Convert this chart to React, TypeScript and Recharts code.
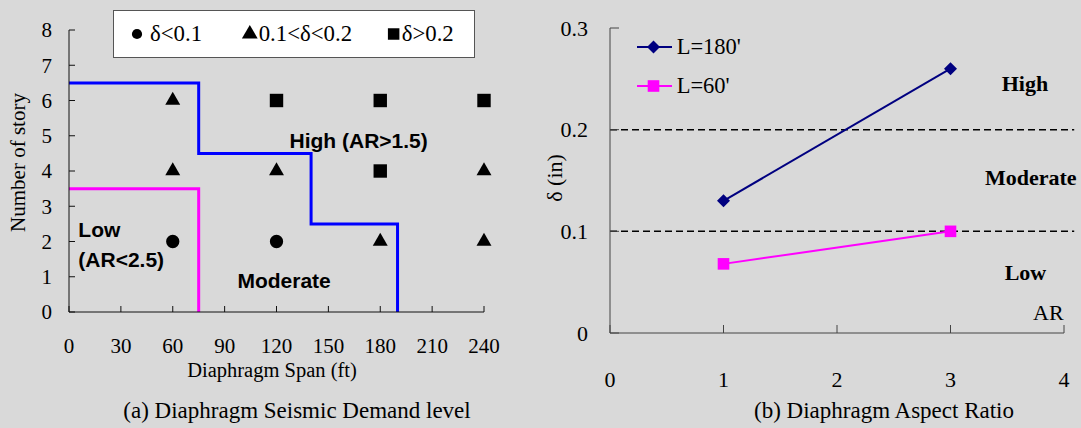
import React from 'react';
import {
  ComposedChart,
  LineChart,
  Line,
  Scatter,
  XAxis,
  YAxis,
  ReferenceLine,
  ReferenceDot,
  Legend,
  Label,
  Symbols,
} from 'recharts';

// ---------- data: (a) Diaphragm Seismic Demand level ----------
const spanTicks = [0, 30, 60, 90, 120, 150, 180, 210, 240];
const storyTicks = [0, 1, 2, 3, 4, 5, 6, 7, 8];
const lowDrift = [
  { x: 60, y: 2 },
  { x: 120, y: 2 },
];
const midDrift = [
  { x: 60, y: 6 },
  { x: 60, y: 4 },
  { x: 120, y: 4 },
  { x: 180, y: 2 },
  { x: 240, y: 4 },
  { x: 240, y: 2 },
];
const highDrift = [
  { x: 120, y: 6 },
  { x: 180, y: 6 },
  { x: 240, y: 6 },
  { x: 180, y: 4 },
];
const highBoundary = [
  { x: 0, y: 6.5 },
  { x: 75, y: 4.5 },
  { x: 140, y: 2.5 },
  { x: 190, y: 0 },
];
const lowBoundary = [
  { x: 0, y: 3.5 },
  { x: 75, y: 0 },
];
const driftNames = ['δ<0.1', '0.1<δ<0.2', 'δ>0.2'];
const driftSymbols = ['circle', 'triangle', 'square'];

// ---------- data: (b) Diaphragm Aspect Ratio ----------
const arTicks = [0, 1, 2, 3, 4];
const deltaTicks = [0, 0.1, 0.2, 0.3];
const aspectRatio = [1, 3];
const deltaL180 = [0.13, 0.26];
const deltaL60 = [0.068, 0.1];
const seriesNames = ["L=180'", "L=60'"];
const thresholds = [0.1, 0.2];

const ratioTable = aspectRatio.map((ar, i) => ({ ar, l180: deltaL180[i], l60: deltaL60[i] }));

const SERIF = '"Liberation Serif", "Times New Roman", serif';
const SANS = '"Liberation Sans", Arial, sans-serif';
const BG = '#d9d9d9';

const markerArea: Record<string, number> = { circle: 139, triangle: 97, square: 180 };
const iconArea: Record<string, number> = { circle: 82, triangle: 108, square: 132 };
const legendItemWidths = [109.4, 146.3, 80];
const legendIconWidths = [10, 15.6, 11.3];
const legendGaps = [7.7, 1.4, 2.4];

const LeftLegend = () => (
  <div
    style={{
      position: 'absolute',
      left: 113,
      top: 10,
      boxSizing: 'border-box',
      width: 362,
      height: 48,
      background: '#fff',
      border: '1px solid #555',
      display: 'flex',
      alignItems: 'center',
      paddingLeft: 18.3,
      fontFamily: SERIF,
      fontSize: 22.8,
      color: '#000',
      whiteSpace: 'nowrap',
    }}
  >
    {driftNames.map((name, i) => {
      const w = legendIconWidths[i];
      const t = driftSymbols[i];
      return (
        <div key={name} style={{ display: 'flex', alignItems: 'center', width: legendItemWidths[i] }}>
          <svg width={w} height={16} style={{ marginRight: legendGaps[i], overflow: 'visible' }}>
            <Symbols cx={w / 2} cy={8} type={t as any} size={iconArea[t]} fill="#000" />
          </svg>
          <span>{name}</span>
        </div>
      );
    })}
  </div>
);

const Diamond = (props: any) => {
  const { cx, cy, fill } = props;
  if (cx == null || cy == null) return null;
  const r = 6.5;
  return <polygon points={`${cx},${cy - r} ${cx + r},${cy} ${cx},${cy + r} ${cx - r},${cy}`} fill={fill} />;
};
const Square = (props: any) => {
  const { cx, cy, fill } = props;
  if (cx == null || cy == null) return null;
  const r = 5.8;
  return <rect x={cx - r} y={cy - r} width={2 * r} height={2 * r} fill={fill} />;
};

const RightLegend = (props: any) => {
  const payload = props.payload || [];
  return (
    <div style={{ fontFamily: SERIF, fontSize: 22.5, color: '#000', whiteSpace: 'nowrap' }}>
      {payload.map((e: any, i: number) => (
        <div key={i} style={{ display: 'flex', alignItems: 'center', height: 39 }}>
          <svg width={35} height={14} style={{ overflow: 'visible' }}>
            <line x1={0} x2={35} y1={7} y2={7} stroke={e.color} strokeWidth={2} />
            {e.dataKey === 'l180' ? (
              <Diamond cx={16.5} cy={7} fill={e.color} />
            ) : (
              <Square cx={16.5} cy={7} fill={e.color} />
            )}
          </svg>
          <span style={{ marginLeft: 5 }}>{e.value}</span>
        </div>
      ))}
    </div>
  );
};

const shapeOf = (type: string) => (p: any) =>
  <Symbols cx={p.cx} cy={p.cy} type={type as any} size={markerArea[type]} fill="#000" />;

const driftSeries = [lowDrift, midDrift, highDrift];

export default function App() {
  return (
    <div
      style={{
        position: 'absolute',
        left: 0,
        top: 0,
        width: 1081,
        height: 428,
        background: BG,
        overflow: 'hidden',
      }}
    >
      {/* (a) */}
      <div style={{ position: 'absolute', left: 0, top: 0 }}>
        <ComposedChart width={540} height={428} margin={{ top: 30, right: 56, bottom: 0, left: 0 }}>
          <XAxis
            type="number"
            dataKey="x"
            domain={[0, 240]}
            ticks={spanTicks}
            interval={0}
            height={116}
            tickSize={-6}
            tickMargin={32}
            axisLine={{ stroke: '#111', strokeWidth: 1 }}
            tickLine={{ stroke: '#111' }}
            tick={{ fontSize: 21, fontFamily: SERIF, fill: '#000' }}
          >
            <Label
              content={() => (
                <text x={272} y={377} textAnchor="middle" fontFamily={SERIF} fontSize={20.5} fill="#000">
                  Diaphragm Span (ft)
                </text>
              )}
            />
          </XAxis>
          <YAxis
            type="number"
            dataKey="y"
            domain={[0, 8]}
            ticks={storyTicks}
            interval={0}
            width={69}
            tickSize={-6}
            tickMargin={23}
            axisLine={{ stroke: '#111', strokeWidth: 1 }}
            tickLine={{ stroke: '#111' }}
            tick={{ fontSize: 21, fontFamily: SERIF, fill: '#000' }}
          >
            <Label
              content={() => (
                <text
                  x={25}
                  y={162.5}
                  transform="rotate(-90, 25, 162.5)"
                  textAnchor="middle"
                  fontFamily={SERIF}
                  fontSize={21}
                  fill="#000"
                >
                  Number of story
                </text>
              )}
            />
          </YAxis>
          <Line
            data={highBoundary}
            dataKey="y"
            type="stepAfter"
            stroke="#0000ff"
            strokeWidth={3}
            dot={false}
            activeDot={false}
            legendType="none"
            isAnimationActive={false}
          />
          <Line
            data={lowBoundary}
            dataKey="y"
            type="stepAfter"
            stroke="#ff00ff"
            strokeWidth={3}
            dot={false}
            activeDot={false}
            legendType="none"
            isAnimationActive={false}
          />
          {driftSeries.map((d, i) => (
            <Scatter
              key={driftNames[i]}
              name={driftNames[i]}
              data={d}
              fill="#000"
              legendType={driftSymbols[i] as any}
              shape={shapeOf(driftSymbols[i])}
              isAnimationActive={false}
            />
          ))}
          <ReferenceDot x={167.5} y={4.85} r={0} fill="none" stroke="none">
            <Label value="High (AR>1.5)" position="center" fontFamily={SANS} fontWeight="bold" fontSize={21} fill="#000" />
          </ReferenceDot>
          <ReferenceDot x={5.4} y={2.33} r={0} fill="none" stroke="none">
            <Label value="Low" position="right" offset={0} fontFamily={SANS} fontWeight="bold" fontSize={21} fill="#000" />
          </ReferenceDot>
          <ReferenceDot x={5.4} y={1.5} r={0} fill="none" stroke="none">
            <Label value="(AR<2.5)" position="right" offset={0} fontFamily={SANS} fontWeight="bold" fontSize={21} fill="#000" />
          </ReferenceDot>
          <ReferenceDot x={124.4} y={0.9} r={0} fill="none" stroke="none">
            <Label value="Moderate" position="center" fontFamily={SANS} fontWeight="bold" fontSize={21} fill="#000" />
          </ReferenceDot>
        </ComposedChart>
      </div>
      <LeftLegend />

      {/* (b) */}
      <div style={{ position: 'absolute', left: 540, top: 0 }}>
        <LineChart width={541} height={428} data={ratioTable} margin={{ top: 28, right: 17, bottom: 0, left: 0 }}>
          <XAxis
            type="number"
            dataKey="ar"
            domain={[0, 4]}
            ticks={arTicks}
            interval={0}
            height={95}
            tickSize={-8}
            tickMargin={46}
            axisLine={{ stroke: '#444', strokeWidth: 1 }}
            tickLine={{ stroke: '#444' }}
            tick={{ fontSize: 22, fontFamily: SERIF, fill: '#000' }}
          />
          <YAxis
            type="number"
            domain={[0, 0.3]}
            ticks={deltaTicks}
            interval={0}
            width={70}
            tickSize={-9}
            tickMargin={31}
            axisLine={{ stroke: '#444', strokeWidth: 1 }}
            tickLine={{ stroke: '#444' }}
            tick={{ fontSize: 22, fontFamily: SERIF, fill: '#000' }}
          >
            <Label
              content={() => (
                <text
                  x={22}
                  y={178}
                  transform="rotate(-90, 22, 178)"
                  textAnchor="middle"
                  fontFamily={SERIF}
                  fontSize={22}
                  fill="#000"
                >
                  δ (in)
                </text>
              )}
            />
          </YAxis>
          {thresholds.map((t) => (
            <ReferenceLine
              key={t}
              segment={[
                { x: 0, y: t },
                { x: 4.09, y: t },
              ]}
              ifOverflow="visible"
              stroke="#000"
              strokeWidth={1.5}
              strokeDasharray="7 4"
            />
          ))}
          <Legend
            layout="vertical"
            align="center"
            verticalAlign="middle"
            content={<RightLegend />}
            wrapperStyle={{ left: 96.7, top: 27.2, width: 120, height: 78 }}
          />
          <Line
            dataKey="l180"
            name={seriesNames[0]}
            stroke="#000080"
            strokeWidth={2}
            dot={<Diamond fill="#000080" />}
            activeDot={false}
            isAnimationActive={false}
          />
          <Line
            dataKey="l60"
            name={seriesNames[1]}
            stroke="#ff00ff"
            strokeWidth={2}
            dot={<Square fill="#ff00ff" />}
            activeDot={false}
            isAnimationActive={false}
          />
          <ReferenceDot x={3.656} y={0.246} r={0} fill="none" stroke="none">
            <Label value="High" position="center" fontFamily={SERIF} fontWeight="bold" fontSize={22} fill="#000" />
          </ReferenceDot>
          <ReferenceDot x={3.707} y={0.153} r={0} fill="none" stroke="none">
            <Label value="Moderate" position="center" fontFamily={SERIF} fontWeight="bold" fontSize={22} fill="#000" />
          </ReferenceDot>
          <ReferenceDot x={3.66} y={0.0597} r={0} fill="none" stroke="none">
            <Label value="Low" position="center" fontFamily={SERIF} fontWeight="bold" fontSize={22} fill="#000" />
          </ReferenceDot>
          <ReferenceDot x={3.862} y={0.0204} r={0} fill="none" stroke="none">
            <Label value="AR" position="center" fontFamily={SERIF} fontSize={22} fill="#000" />
          </ReferenceDot>
        </LineChart>
      </div>

      {/* captions */}
      <div
        style={{
          position: 'absolute',
          left: 0,
          top: 397,
          width: 594,
          textAlign: 'center',
          fontFamily: SERIF,
          fontSize: 23,
          lineHeight: '28px',
          color: '#000',
          whiteSpace: 'nowrap',
        }}
      >
        (a) Diaphragm Seismic Demand level
      </div>
      <div
        style={{
          position: 'absolute',
          left: 700,
          top: 397,
          width: 368,
          textAlign: 'center',
          fontFamily: SERIF,
          fontSize: 23,
          lineHeight: '28px',
          color: '#000',
          whiteSpace: 'nowrap',
        }}
      >
        (b) Diaphragm Aspect Ratio
      </div>
    </div>
  );
}
